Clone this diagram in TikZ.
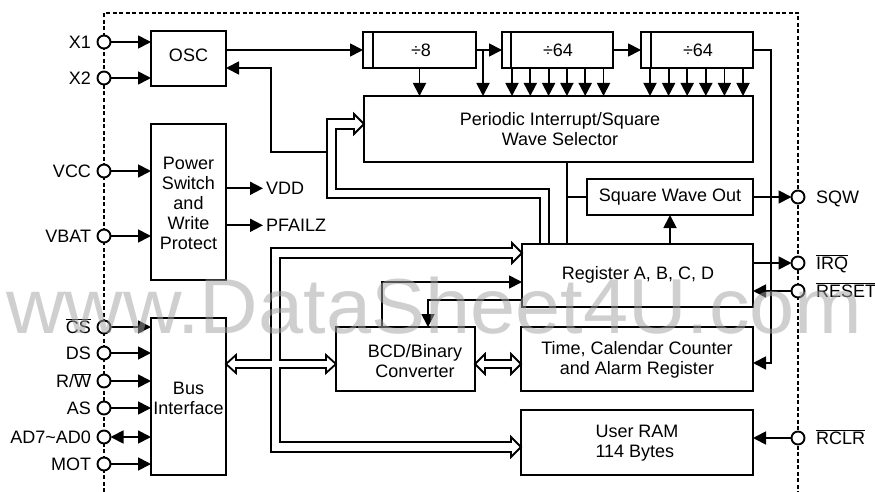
\documentclass[tikz,border=0pt]{standalone}
\usepackage{fontspec}
\setmainfont{Liberation Sans}
\usetikzlibrary{arrows.meta,calc}
\newcommand\ovl[1]{$\overline{\hbox{#1}}$}
\newcommand\leftpin[3]{%
  \node[pin] (#1) at (104,#2) {};
  \node[anchor=base east] (#1l) at (91,#2+6.5) {#3};}
\newcommand\rightpin[3]{%
  \node[pin] (#1) at (798,#2) {};
  \node[anchor=base west] (#1l) at (816,#2+6.5) {#3};}
\begin{document}
\begin{tikzpicture}[x=1pt,y=-1pt,
  every node/.style={inner sep=0pt, outer sep=0pt, font=\fontsize{18}{20}\selectfont},
  wire/.style={line width=1.8pt, line join=miter, line cap=butt},
  arr/.style={wire, -{Triangle[length=13pt,width=13pt]}},
  blk/.style={draw, line width=1.8pt},
  pin/.style={circle, draw, line width=1.9pt, fill=white, minimum size=13pt},
  border/.style={line width=1.3pt, dash pattern=on 4pt off 2.5pt},
  txt/.style={align=center},
]
\useasboundingbox (0,0) rectangle (875,492);
\fill[white] (0,0) rectangle (875,492);

% dashed chip outline
\draw[border] (104,492) -- (104,13) -- (798,13) -- (798,492);

% boxes
\node[blk, minimum width=75pt, minimum height=55pt] (osc) at (188.5,58.5) {};
\node[blk, minimum width=113pt, minimum height=36pt] (div8) at (419.5,50) {};
\node[blk, minimum width=111pt, minimum height=36pt] (div64a) at (557.5,50) {};
\node[blk, minimum width=112pt, minimum height=36pt] (div64b) at (697,50) {};
\node[blk, minimum width=389pt, minimum height=66pt] (per) at (558.5,129) {};
\node[blk, minimum width=75pt, minimum height=156pt] (pwr) at (188.5,202) {};
\node[blk, minimum width=166pt, minimum height=36pt] (swo) at (670,197) {};
\node[blk, minimum width=231pt, minimum height=63pt] (reg) at (637.5,275.5) {};
\node[blk, minimum width=139pt, minimum height=64pt] (bcd) at (405.5,359) {};
\node[blk, minimum width=232pt, minimum height=64pt] (tim) at (637,359) {};
\node[blk, minimum width=232pt, minimum height=65pt] (ram) at (637,442.5) {};
\node[blk, minimum width=75pt, minimum height=157pt] (bus) at (188.5,396.5) {};

\draw[wire] ([xshift=10pt]div8.north west) -- ([xshift=10pt]div8.south west);
\draw[wire] ([xshift=9pt]div64a.north west) -- ([xshift=9pt]div64a.south west);
\draw[wire] ([xshift=10pt]div64b.north west) -- ([xshift=10pt]div64b.south west);

% box texts
\node (osct) at (188.5,55) {OSC};
\node (div8t) at (421,50) {÷8};
\node (div64at) at (558,50) {÷64};
\node (div64bt) at (698,50) {÷64};
\node[txt] (pert) at (560,129) {Periodic Interrupt/Square\\Wave Selector};
\node[txt] (pwrt) at (188.5,203) {Power\\Switch\\and\\Write\\Protect};
\node (swot) at (670,197) {Square Wave Out};
\node (regt) at (638,275) {Register A, B, C, D};
\node[txt] (bcdt) at (415,361) {BCD/Binary\\Converter};
\node[txt] (timt) at (637,360) {Time, Calendar Counter\\and Alarm Register};
\node[align=left] (ramt) at (637,443) {User RAM\\114 Bytes};
\node[txt] (bust) at (188.5,398) {Bus\\Interface};

% pins
\leftpin{x1}{42}{X1}
\leftpin{x2}{78}{X2}
\leftpin{vcc}{171}{VCC}
\leftpin{vbat}{236}{VBAT}
\leftpin{cs}{327}{\ovl{CS}}
\leftpin{ds}{353}{DS}
\leftpin{rw}{381}{R/\ovl{W}}
\leftpin{as}{408}{AS}
\leftpin{ad}{437}{AD7\textasciitilde AD0}
\leftpin{mot}{464}{MOT}
\rightpin{sqw}{197}{SQW}
\rightpin{irq}{263}{\ovl{IRQ}}
\rightpin{reset}{291}{\ovl{RESET}}
\rightpin{rclr}{438}{\ovl{RCLR}}

% pin connections
\draw[arr] (x1) -- (x1 -| osc.west);
\draw[arr] (x2) -- (x2 -| osc.west);
\draw[arr] (vcc) -- (vcc -| pwr.west);
\draw[arr] (vbat) -- (vbat -| pwr.west);
\foreach \p in {cs,ds,rw,as,mot} \draw[arr] (\p) -- (\p -| bus.west);
\draw[wire, {Triangle[length=13pt,width=13pt]}-{Triangle[length=13pt,width=13pt]}] (ad) -- (ad -| bus.west);
\draw[arr] (swo.east) -- (sqw);
\draw[arr] (irq -| reg.east) -- (irq);
\draw[arr] (reset) -- (reset -| reg.east);
\draw[arr] (rclr) -- (rclr -| ram.east);

% power outputs
\node[anchor=base west] (vdd) at (266,194.5) {VDD};
\node[anchor=base west] (pfz) at (266,231.5) {PFAILZ};
\draw[arr] (vdd.west -| pwr.east) -- ([xshift=-3pt]vdd.west);
\draw[arr] (pfz.west -| pwr.east) -- ([xshift=-3pt]pfz.west);

% oscillator and dividers
\draw[arr] (osc.east |- div8.west) -- (div8.west);
\coordinate (fbj) at (327,152);
\coordinate (fbc) at (271,68);
\draw[arr] (fbj) -- (fbj -| fbc) -- (fbc) -- (fbc -| osc.east);
\draw[arr] (div8.east) -- (div64a.west);
\coordinate (br8) at (483,50);
\draw[arr] (br8) -- (br8 |- per.north);
\draw[arr] (div8.south) -- (div8.south |- per.north);
\foreach \i in {0,...,5} {
  \coordinate (a\i) at ($(div64a.south west)+(10+18.3*\i,0)$);
  \draw[arr] (a\i) -- (a\i |- per.north);
  \coordinate (b\i) at ($(div64b.south west)+(9+18.6*\i,0)$);
  \draw[arr] (b\i) -- (b\i |- per.north);
}
\draw[arr] (div64a.east) -- (div64b.west);
\coordinate (o1) at (771,50);
\coordinate (o2) at (771,363);
\draw[arr] (div64b.east) -- (o1) -- (o2) -- (o2 -| tim.east);

% selector / register / square wave
\coordinate (pr1) at (567,162);
\coordinate (prj) at (567,197);
\draw[wire] (pr1) -- (pr1 |- reg.north);
\draw[wire] (prj) -- (swo.west);
\draw[arr] (swo.south |- reg.north) -- (swo.south);

% register <-> BCD
\coordinate (c1) at (382,282);
\draw[arr] (c1 |- bcd.north) -- (c1) -- (c1 -| reg.west);
\coordinate (c2) at (428,300);
\draw[arr] (c2 -| reg.west) -- (c2) -- (c2 |- bcd.north);

% buses (double lines with open heads)
\draw[wire] (540,244) -- (540,198) -- (327,198) -- (327,119) -- (354,119) -- (354,114)
  -- (364,124) -- (354,134) -- (354,129) -- (336,129) -- (336,189) -- (549,189) -- (549,244);
\draw[wire] (271,360) -- (236,360) -- (236,355) -- (226,364) -- (236,373) -- (236,368)
  -- (271,368) -- (271,452) -- (511,452) -- (511,457) -- (521,447) -- (511,437) -- (511,442)
  -- (280,442) -- (280,368) -- (326,368) -- (326,373) -- (336,364) -- (326,355) -- (326,360)
  -- (280,360) -- (280,258) -- (512,258) -- (512,263) -- (522,253) -- (512,243) -- (512,248)
  -- (271,248) -- cycle;
\draw[wire] (485,360) -- (511,360) -- (511,354) -- (521,364) -- (511,374) -- (511,368)
  -- (485,368) -- (485,374) -- (475,364) -- (485,354) -- cycle;

% watermark
\node[anchor=base west, font=\fontsize{78}{80}\selectfont, text=black!36, opacity=0.52, xscale=1.04] (wm) at (6,333) {www.DataSheet4U.com};
\end{tikzpicture}
\end{document}
